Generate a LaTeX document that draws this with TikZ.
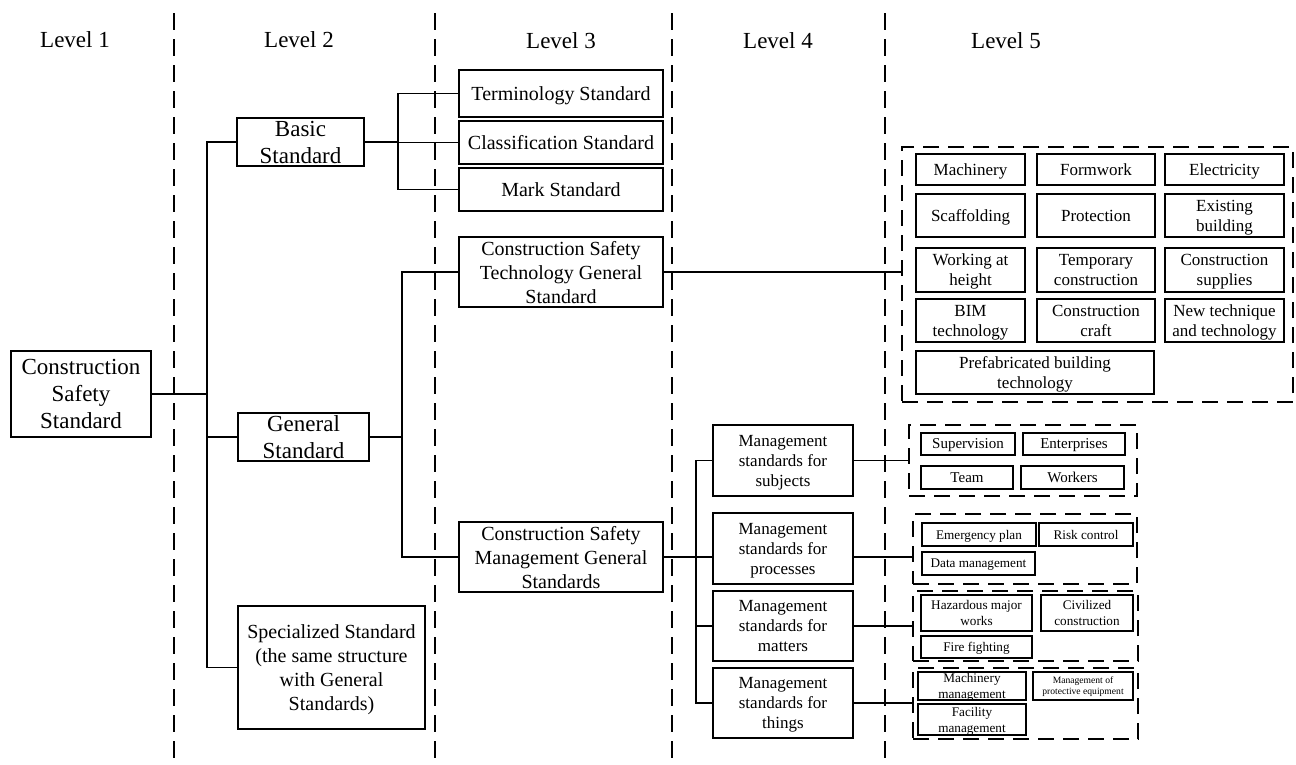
\documentclass[tikz,border=0pt]{standalone}
\usepackage{fontspec}
\setmainfont{Liberation Serif}
\tikzset{
  stdbox/.style={draw, line width=1.1pt, align=center, inner sep=0pt, text depth=0pt},
  grpbox/.style={draw, line width=1.1pt, dash pattern=on 16pt off 9pt, inner sep=0pt},
  sepline/.style={line width=1.1pt, dash pattern=on 17pt off 9pt},
  link/.style={line width=1.1pt},
  txtL/.style={font=\fontsize{23}{27}\selectfont},
  txtM/.style={font=\fontsize{20}{24}\selectfont},
  txtS/.style={font=\fontsize{17}{20}\selectfont},
  txtXS/.style={font=\fontsize{15}{17}\selectfont},
  txtXXS/.style={font=\fontsize{13.2}{16}\selectfont},
  txtT/.style={font=\fontsize{9.6}{11}\selectfont},
}
\begin{document}
\begin{tikzpicture}[x=1pt, y=-1pt]
\useasboundingbox (0,0) rectangle (1296,764);
% level separators
\foreach \xx in {174,435,672,885}
  \draw[sepline] (\xx,13) -- (\xx,764);
% level titles
\node[txtL] (lev1) at (75,40) {Level 1};
\node[txtL] (lev2) at (299,40) {Level 2};
\node[txtL] (lev3) at (561,41) {Level 3};
\node[txtL] (lev4) at (778,41) {Level 4};
\node[txtL] (lev5) at (1006,41) {Level 5};
% level 1 and 2
\node[stdbox, txtL, minimum width=140pt, minimum height=86pt] (css) at (81,394) {Construction\\Safety\\Standard};
\node[stdbox, txtL, minimum width=127pt, minimum height=48pt] (basic) at (300.5,142) {Basic\\Standard};
\node[stdbox, txtL, minimum width=131pt, minimum height=48pt] (general) at (303.5,437) {General\\Standard};
\node[stdbox, txtM, minimum width=187pt, minimum height=123pt] (spec) at (331.5,667.5) {Specialized Standard\\(the same structure\\with General\\Standards)};
% level 3
\node[stdbox, txtM, minimum width=204pt, minimum height=47pt] (term) at (561,93.5) {Terminology Standard};
\node[stdbox, txtM, minimum width=204pt, minimum height=43pt] (class) at (561,142.5) {Classification Standard};
\node[stdbox, txtM, minimum width=204pt, minimum height=43pt] (mark) at (561,189.5) {Mark Standard};
\node[stdbox, txtM, minimum width=204pt, minimum height=70pt] (techgen) at (561,272) {Construction Safety\\Technology General\\Standard};
\node[stdbox, txtM, minimum width=204pt, minimum height=70pt] (mgmtgen) at (561,557) {Construction Safety\\Management General\\Standards};
% level 4
\node[stdbox, txtS, minimum width=140pt, minimum height=71pt] (subj) at (783,460.5) {Management\\standards for\\subjects};
\node[stdbox, txtS, minimum width=140pt, minimum height=71pt] (proc) at (783,548.5) {Management\\standards for\\processes};
\node[stdbox, txtS, minimum width=140pt, minimum height=70pt] (matt) at (783,626) {Management\\standards for\\matters};
\node[stdbox, txtS, minimum width=140pt, minimum height=70pt] (things) at (783,703) {Management\\standards for\\things};
% level 5: technology
\node[grpbox, minimum width=391pt, minimum height=255pt] (tech5) at (1097.5,274.5) {};
\node[stdbox, txtS, minimum width=109pt, minimum height=31pt] (mach) at (970.5,169.5) {Machinery};
\node[stdbox, txtS, minimum width=118pt, minimum height=31pt] (form) at (1096,169.5) {Formwork};
\node[stdbox, txtS, minimum width=119pt, minimum height=31pt] (elec) at (1224.5,169.5) {Electricity};
\node[stdbox, txtS, minimum width=109pt, minimum height=43pt] (scaf) at (970.5,215.5) {Scaffolding};
\node[stdbox, txtS, minimum width=118pt, minimum height=43pt] (prot) at (1096,215.5) {Protection};
\node[stdbox, txtS, minimum width=119pt, minimum height=43pt] (exist) at (1224.5,215.5) {Existing\\building};
\node[stdbox, txtS, minimum width=109pt, minimum height=44pt] (height) at (970.5,270) {Working at\\height};
\node[stdbox, txtS, minimum width=118pt, minimum height=44pt] (temp) at (1096,270) {Temporary\\construction};
\node[stdbox, txtS, minimum width=119pt, minimum height=44pt] (supp) at (1224.5,270) {Construction\\supplies};
\node[stdbox, txtS, minimum width=109pt, minimum height=43pt] (bim) at (970.5,320.5) {BIM\\technology};
\node[stdbox, txtS, minimum width=118pt, minimum height=43pt] (craft) at (1096,320.5) {Construction\\craft};
\node[stdbox, txtS, minimum width=119pt, minimum height=43pt] (newtech) at (1224.5,320.5) {New technique\\and technology};
\node[stdbox, txtS, minimum width=238pt, minimum height=43pt] (prefab) at (1035,372.5) {Prefabricated building\\technology};
% level 5: subjects
\node[grpbox, minimum width=228pt, minimum height=71pt] (subj5) at (1023,460.5) {};
\node[stdbox, txtXS, minimum width=94pt, minimum height=22pt] (superv) at (968,444) {Supervision};
\node[stdbox, txtXS, minimum width=102pt, minimum height=22pt] (enter) at (1074,444) {Enterprises};
\node[stdbox, txtXS, minimum width=92pt, minimum height=23pt] (team) at (967,477.5) {Team};
\node[stdbox, txtXS, minimum width=103pt, minimum height=23pt] (work) at (1072.5,477.5) {Workers};
% level 5: processes
\node[grpbox, minimum width=224pt, minimum height=70pt] (proc5) at (1025,549) {};
\node[stdbox, txtXXS, minimum width=114pt, minimum height=23pt] (emerg) at (979,534.5) {Emergency plan};
\node[stdbox, txtXXS, minimum width=94pt, minimum height=23pt] (risk) at (1086,534.5) {Risk control};
\node[stdbox, txtXXS, minimum width=113pt, minimum height=23pt] (data) at (978.5,563.5) {Data management};
% level 5: matters
\node[grpbox, minimum width=225pt, minimum height=70pt] (matt5) at (1025.5,626) {};
\node[stdbox, txtXXS, minimum width=111pt, minimum height=36pt] (hazard) at (976.5,613) {Hazardous major\\works};
\node[stdbox, txtXXS, minimum width=92pt, minimum height=36pt] (civil) at (1087,613) {Civilized\\construction};
\node[stdbox, txtXXS, minimum width=111pt, minimum height=22pt] (fire) at (976.5,647) {Fire fighting};
% level 5: things
\node[grpbox, minimum width=225pt, minimum height=71pt] (things5) at (1025.5,703.5) {};
\node[stdbox, txtXXS, minimum width=108pt, minimum height=28pt] (machm) at (972,686) {Machinery\\management};
\node[stdbox, txtT, minimum width=100pt, minimum height=28pt] (equip) at (1083,686) {Management of\\protective equipment};
\node[stdbox, txtXXS, minimum width=108pt, minimum height=31pt] (facil) at (972,719.5) {Facility\\management};
% trunks
\coordinate (t1) at (207,0);
\coordinate (t2) at (398,0);
\coordinate (t3) at (402,0);
\coordinate (t4) at (696,0);
\draw[link] (css.east) -- (css.east -| t1);
\draw[link] (basic.west) -- (basic.west -| t1) |- (spec.west);
\draw[link] (general.west) -- (general.west -| t1);
\draw[link] (basic.east) -- (basic.east -| t2);
\draw[link] (term.west) -- (term.west -| t2) |- (mark.west);
\draw[link] (class.west) -- (class.west -| t2);
\draw[link] (general.east) -- (general.east -| t3);
\draw[link] (techgen.west) -- (techgen.west -| t3) |- (mgmtgen.west);
\draw[link] (techgen.east) -- (techgen.east -| tech5.west);
\draw[link] (mgmtgen.east) -- (mgmtgen.east -| proc.west);
\draw[link] (subj.west) -- (subj.west -| t4) |- (things.west);
\draw[link] (matt.west) -- (matt.west -| t4);
\draw[link] (subj.east) -- (subj.east -| subj5.west);
\draw[link] (proc.east |- mgmtgen.east) -- (mgmtgen.east -| proc5.west);
\draw[link] (matt.east) -- (matt.east -| matt5.west);
\draw[link] (things.east) -- (things.east -| things5.west);
\end{tikzpicture}
\end{document}
